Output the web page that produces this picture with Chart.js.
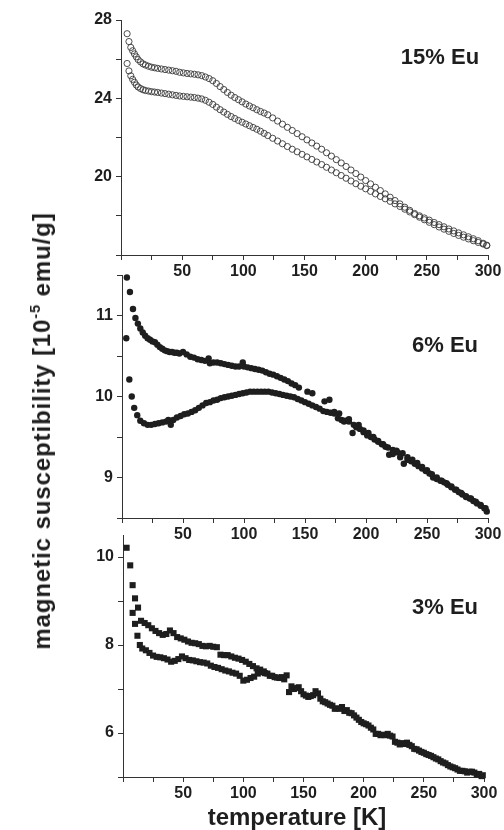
<!DOCTYPE html>
<html>
<head>
<meta charset="utf-8">
<script src="https://cdn.jsdelivr.net/npm/chart.js@4/dist/chart.umd.min.js"></script>
<style>
  body { margin: 0; background: #fff; }
  #wrap { position: relative; width: 504px; height: 830px; overflow: hidden; font-family: "Liberation Sans", Arial, sans-serif; color: #1e1e1e; }
  #wrap canvas { position: absolute; left: 0; top: 0; }
  .lbl { position: absolute; transform: translate(-50%, -50%); white-space: nowrap; font-weight: bold; line-height: 1; }
  .ytitle { transform: translate(-50%, -50%) rotate(-90deg); letter-spacing: 0.9px; }
  sup { font-size: 60%; vertical-align: 0.7em; line-height: 0; }
</style>
</head>
<body>
<div id="wrap">
  <canvas id="c15" width="504" height="830"></canvas>
  <canvas id="c6" width="504" height="830"></canvas>
  <canvas id="c3" width="504" height="830"></canvas>
  <div class="lbl" style="left:440px; top:57px; font-size:22px;">15% Eu</div>
  <div class="lbl" style="left:445px; top:345px; font-size:22px;">6% Eu</div>
  <div class="lbl" style="left:445px; top:607px; font-size:22px;">3% Eu</div>
  <div class="lbl ytitle" style="left:42px; top:431px; font-size:24px;">magnetic susceptibility [10<sup>-5</sup> emu/g]</div>
  <div class="lbl" style="left:297px; top:817px; font-size:24px;">temperature [K]</div>
</div>
<script>
// 15% Eu - open circles, two branches
const temps15 = [
  5, 6.5, 8, 9.5, 11, 12.5, 14, 16, 18, 20,
  22.5, 25, 27.5, 30, 33, 36, 39, 42, 45, 48,
  51, 54, 57, 60, 63, 66, 69, 72, 75, 78,
  81, 84, 87, 90, 93, 96, 99, 102, 105, 108,
  111, 114, 117, 120, 124, 128, 132, 136, 140, 144,
  148, 152, 156, 160, 164, 168, 172, 176, 180, 184,
  188, 192, 196, 200, 204, 208, 212, 216, 220, 224,
  228, 232, 236, 240, 244, 248, 252, 256, 260, 264,
  268, 272, 276, 280, 284, 288, 292, 296, 299
];
const chi15Up = [
  27.30, 26.90, 26.60, 26.43, 26.27, 26.12, 25.98, 25.86, 25.76, 25.70,
  25.64, 25.59, 25.56, 25.53, 25.50, 25.47, 25.44, 25.41, 25.38, 25.33,
  25.30, 25.27, 25.25, 25.23, 25.20, 25.16, 25.09, 25.01, 24.90, 24.76,
  24.60, 24.45, 24.30, 24.16, 24.04, 23.93, 23.82, 23.71, 23.61, 23.52,
  23.42, 23.33, 23.25, 23.16, 23.00, 22.84, 22.68, 22.52, 22.36, 22.20,
  22.04, 21.88, 21.72, 21.56, 21.40, 21.22, 21.05, 20.87, 20.70, 20.52,
  20.34, 20.16, 19.98, 19.80, 19.63, 19.46, 19.29, 19.12, 18.95, 18.78,
  18.61, 18.44, 18.28, 18.12, 18.00, 17.89, 17.78, 17.66, 17.55, 17.44,
  17.33, 17.23, 17.13, 17.03, 16.93, 16.83, 16.73, 16.60, 16.50
];
const chi15Down = [
  25.78, 25.40, 25.15, 24.97, 24.82, 24.68, 24.58, 24.50, 24.44, 24.40,
  24.37, 24.34, 24.32, 24.30, 24.27, 24.24, 24.21, 24.18, 24.15, 24.12,
  24.10, 24.08, 24.06, 24.04, 24.01, 23.97, 23.90, 23.80, 23.69, 23.55,
  23.42, 23.30, 23.18, 23.07, 22.97, 22.87, 22.78, 22.69, 22.60, 22.51,
  22.42, 22.32, 22.21, 22.10, 21.96, 21.82, 21.68, 21.54, 21.40, 21.27,
  21.14, 21.01, 20.88, 20.75, 20.62, 20.48, 20.34, 20.20, 20.06, 19.92,
  19.78, 19.64, 19.51, 19.38, 19.25, 19.12, 18.99, 18.87, 18.74, 18.61,
  18.48, 18.34, 18.20, 18.06, 17.93, 17.80, 17.67, 17.55, 17.43, 17.32,
  17.21, 17.10, 17.00, 16.91, 16.82, 16.73, 16.64, 16.56, 16.48
];

// 6% Eu - filled circles
const temps6Up = [
  4, 6.5, 9, 11, 13, 15, 17, 19, 21, 23,
  25, 27, 29, 31, 33, 35, 37, 39, 41, 43,
  45, 47, 50, 53, 56, 59, 62, 65, 68, 71,
  72, 75, 78, 81, 84, 87, 90, 93, 96, 99,
  100, 103, 106, 109, 112, 115, 118, 121, 124, 127,
  130, 133, 136, 139, 142, 145, 152, 156, 166, 170,
  174, 178, 182, 186, 190, 194, 198, 202, 206, 210,
  214, 218, 222, 226, 230, 234, 238, 242, 246, 250,
  254, 258, 262, 266, 270, 274, 278, 282, 286, 290,
  294, 298
];
const chi6Up = [
  11.47, 11.29, 11.08, 10.97, 10.90, 10.84, 10.79, 10.75, 10.72, 10.70,
  10.68, 10.67, 10.64, 10.61, 10.59, 10.57, 10.56, 10.55, 10.55, 10.54,
  10.54, 10.53, 10.55, 10.52, 10.49, 10.48, 10.46, 10.45, 10.44, 10.47,
  10.41, 10.42, 10.42, 10.41, 10.40, 10.39, 10.38, 10.37, 10.37, 10.42,
  10.37, 10.36, 10.35, 10.34, 10.33, 10.32, 10.30, 10.28, 10.27, 10.25,
  10.23, 10.21, 10.19, 10.16, 10.14, 10.11, 10.06, 10.04, 9.94, 9.96,
  9.81, 9.79, 9.69, 9.72, 9.65, 9.65, 9.58, 9.55, 9.50, 9.45,
  9.41, 9.37, 9.34, 9.31, 9.30, 9.25, 9.22, 9.18, 9.13, 9.09,
  9.04, 9.00, 8.96, 8.93, 8.89, 8.85, 8.81, 8.77, 8.74, 8.70,
  8.66, 8.62
];
const temps6Down = [
  3.5, 6, 8, 10, 12.5, 15, 18, 21, 24, 27,
  30, 33, 36, 38, 40, 42, 45, 48, 51, 54,
  57, 60, 63, 66, 69, 72, 75, 78, 81, 84,
  87, 90, 93, 96, 99, 102, 105, 108, 111, 114,
  117, 120, 123, 126, 129, 132, 135, 138, 141, 144,
  147, 150, 153, 156, 159, 162, 165, 168, 171, 174,
  177, 180, 183, 186, 189, 192, 195, 198, 201, 204,
  207, 210, 213, 216, 219, 222, 225, 228, 231, 234,
  237, 240, 243, 246, 249, 252, 255, 258, 261, 264,
  267, 270, 273, 276, 279, 282, 285, 288, 291, 294,
  297, 299
];
const chi6Down = [
  10.72, 10.21, 10.00, 9.86, 9.77, 9.70, 9.67, 9.65, 9.65, 9.66,
  9.67, 9.68, 9.69, 9.71, 9.65, 9.71, 9.74, 9.76, 9.78, 9.79,
  9.81, 9.83, 9.86, 9.89, 9.92, 9.93, 9.95, 9.96, 9.98, 9.99,
  10.00, 10.01, 10.02, 10.03, 10.04, 10.05, 10.06, 10.06, 10.06, 10.06,
  10.06, 10.06, 10.05, 10.04, 10.03, 10.02, 10.01, 10.00, 9.99, 9.97,
  9.95, 9.93, 9.91, 9.89, 9.87, 9.85, 9.82, 9.81, 9.80, 9.79,
  9.73, 9.71, 9.70, 9.69, 9.55, 9.62, 9.60, 9.56, 9.52, 9.50,
  9.47, 9.44, 9.41, 9.38, 9.28, 9.29, 9.33, 9.25, 9.17, 9.22,
  9.20, 9.17, 9.14, 9.11, 9.08, 9.05, 9.00, 8.98, 8.96, 8.94,
  8.91, 8.88, 8.85, 8.82, 8.79, 8.76, 8.74, 8.71, 8.68, 8.65,
  8.62, 8.58
];

// 3% Eu - filled squares
const temps3Up = [
  3, 6, 8, 10, 12.5, 15, 18, 21, 24, 27,
  30, 33, 36, 39, 42, 45, 48, 51, 54, 57,
  60, 63, 66, 69, 72, 75, 78, 81, 84, 87,
  90, 93, 96, 99, 102, 105, 108, 111, 114, 117,
  120, 124, 128, 132, 136, 140, 144, 148, 152, 156,
  160, 164, 168, 172, 176, 180, 184, 188, 192, 196,
  200, 204, 208, 212, 216, 220, 224, 228, 232, 236,
  240, 244, 248, 252, 256, 260, 264, 268, 272, 276,
  280, 284, 288, 292, 296, 299
];
const chi3Up = [
  10.21, 9.81, 9.36, 9.06, 8.85, 8.55, 8.50, 8.45, 8.38, 8.32,
  8.27, 8.23, 8.25, 8.33, 8.27, 8.18, 8.15, 8.12, 8.08, 8.05,
  8.04, 8.02, 7.98, 7.97, 7.98, 7.96, 7.95, 7.78, 7.77, 7.77,
  7.74, 7.71, 7.69, 7.66, 7.62, 7.57, 7.52, 7.47, 7.44, 7.40,
  7.35, 7.30, 7.26, 7.27, 7.31, 7.06, 7.02, 6.95, 6.85, 6.84,
  6.95, 6.78, 6.70, 6.64, 6.55, 6.55, 6.50, 6.46, 6.40, 6.30,
  6.22, 6.17, 6.08, 5.98, 5.96, 5.98, 5.92, 5.78, 5.77, 5.78,
  5.70, 5.63, 5.57, 5.52, 5.48, 5.42, 5.36, 5.31, 5.24, 5.20,
  5.14, 5.13, 5.12, 5.10, 5.07, 5.04
];
const temps3Down = [
  8, 10, 12, 14, 16, 19, 22, 25, 28, 31,
  34, 37, 40, 43, 46, 49, 52, 55, 58, 61,
  64, 67, 70, 73, 76, 79, 82, 85, 88, 91,
  94, 97, 100, 103, 106, 109, 112, 115, 118, 122,
  126, 130, 134, 138, 142, 146, 150, 154, 158, 162,
  166, 170, 174, 178, 182, 186, 190, 194, 198, 202,
  206, 210, 214, 218, 222, 226, 230, 234, 238, 242,
  246, 250, 254, 258, 262, 266, 270, 274, 278, 282,
  286, 290, 294, 298
];
const chi3Down = [
  8.73, 8.48, 8.21, 8.00, 7.92, 7.88, 7.82, 7.76, 7.73, 7.72,
  7.70, 7.67, 7.62, 7.64, 7.68, 7.74, 7.70, 7.66, 7.65, 7.63,
  7.61, 7.60, 7.58, 7.53, 7.50, 7.48, 7.45, 7.42, 7.40, 7.37,
  7.35, 7.30, 7.19, 7.21, 7.25, 7.28, 7.35, 7.38, 7.36, 7.30,
  7.27, 7.25, 7.22, 6.93, 7.00, 7.04, 6.88, 6.82, 6.86, 6.90,
  6.72, 6.67, 6.62, 6.56, 6.59, 6.52, 6.45, 6.35, 6.25, 6.20,
  6.12, 5.98, 5.95, 5.95, 5.94, 5.80, 5.74, 5.75, 5.73, 5.64,
  5.60, 5.55, 5.50, 5.45, 5.40, 5.33, 5.27, 5.22, 5.17, 5.14,
  5.10, 5.12, 5.06, 5.02
];

// tick values per panel
const xTicks = [0, 25, 50, 75, 100, 125, 150, 175, 200, 225, 250, 275, 300];
const xLabels = [50, 100, 150, 200, 250, 300];
const yTicks15 = [16, 18, 20, 22, 24, 26, 28];
const yLabels15 = [20, 24, 28];
const yTicks6 = [8.5, 9, 9.5, 10, 10.5, 11, 11.5];
const yLabels6 = [9, 10, 11];
const yTicks3 = [5, 6, 7, 8, 9, 10];
const yLabels3 = [6, 8, 10];

const ink = '#1e1e1e';
const axisColor = '#333';
const tickFont = { family: 'Liberation Sans', size: 16, weight: 'bold' };

function pts(xs, ys) {
  return xs.map((x, i) => ({ x: x, y: ys[i] }));
}

function makePanel(id, opts) {
  const ctx = document.getElementById(id).getContext('2d');
  const marker = opts.marker;
  return new Chart(ctx, {
    type: 'scatter',
    data: {
      datasets: opts.series.map(s => Object.assign({
        data: s,
        showLine: false,
        clip: false
      }, marker))
    },
    options: {
      responsive: false,
      animation: false,
      devicePixelRatio: 1,
      layout: { padding: opts.padding },
      plugins: { legend: { display: false }, tooltip: { enabled: false } },
      scales: {
        x: {
          type: 'linear',
          min: 0,
          max: 300,
          afterBuildTicks: scale => { scale.ticks = xTicks.map(v => ({ value: v })); },
          afterFit: scale => { scale.height = 24; },
          grid: { drawOnChartArea: false, tickLength: 5, color: axisColor, tickColor: axisColor },
          border: { display: true, color: axisColor, width: 1 },
          ticks: {
            autoSkip: false,
            maxRotation: 0,
            padding: 2,
            color: ink,
            font: tickFont,
            callback: v => xLabels.includes(v) ? String(v) : ''
          }
        },
        y: {
          type: 'linear',
          min: opts.yMin,
          max: opts.yMax,
          afterBuildTicks: scale => { scale.ticks = opts.yTicks.map(v => ({ value: v })); },
          afterFit: scale => { scale.width = opts.left; },
          grid: { drawOnChartArea: false, tickLength: 5, color: axisColor, tickColor: axisColor },
          border: { display: true, color: axisColor, width: 1 },
          ticks: {
            padding: 4,
            color: ink,
            font: tickFont,
            callback: v => opts.yLabels.includes(v) ? String(v) : ''
          }
        }
      }
    }
  });
}

makePanel('c15', {
  series: [pts(temps15, chi15Up), pts(temps15, chi15Down)],
  marker: { pointStyle: 'circle', pointRadius: 3.1, borderWidth: 0.9, borderColor: '#3a3a3a', backgroundColor: 'rgba(255,255,255,0)' },
  yMin: 16, yMax: 28, yTicks: yTicks15, yLabels: yLabels15,
  left: 121,
  padding: { top: 20, bottom: 551, left: 0, right: 16 }
});

makePanel('c6', {
  series: [pts(temps6Up, chi6Up), pts(temps6Down, chi6Down)],
  marker: { pointStyle: 'circle', pointRadius: 3.2, borderWidth: 0, backgroundColor: ink },
  yMin: 8.5, yMax: 11.5, yTicks: yTicks6, yLabels: yLabels6,
  left: 122,
  padding: { top: 275, bottom: 288, left: 0, right: 16 }
});

makePanel('c3', {
  series: [pts(temps3Up, chi3Up), pts(temps3Down, chi3Down)],
  marker: { pointStyle: 'rect', pointRadius: 4.3, borderWidth: 0, backgroundColor: ink },
  yMin: 5, yMax: 10.5, yTicks: yTicks3, yLabels: yLabels3,
  left: 123,
  padding: { top: 535, bottom: 29, left: 0, right: 20 }
});
</script>
</body>
</html>
